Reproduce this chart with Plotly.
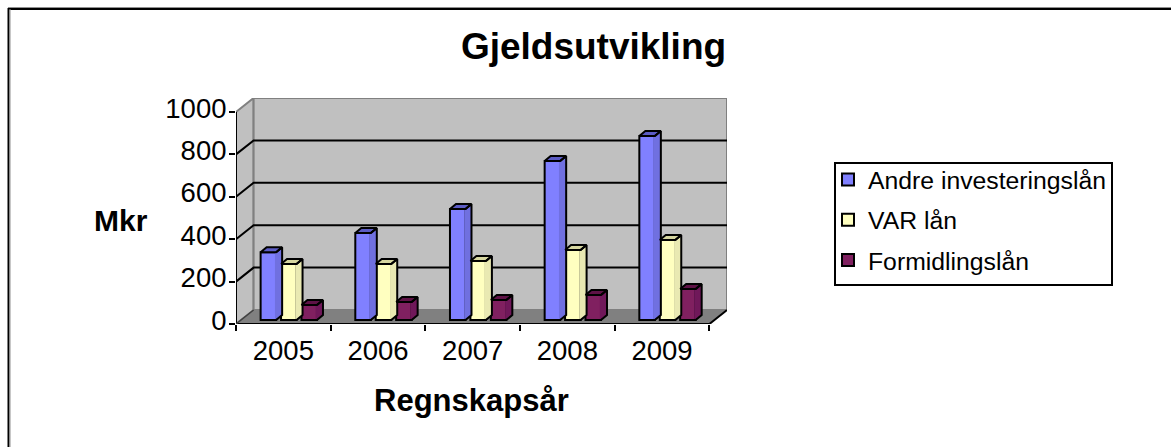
import plotly.graph_objects as go

years = ["2005", "2006", "2007", "2008", "2009"]
andre = [320, 410, 524, 750, 868]
var_lan = [264, 264, 278, 330, 377]
formidling = [71, 85, 94, 118, 146]
y_ticks = [0, 200, 400, 600, 800, 1000]

W, H = 1171, 447
L, R, T, B = 236, 727, 98, 324          # plot area in pixels
UX, UY = 94.6, 0.212                    # pixels per x unit / per value unit
DX, DY = 17.6 / UX, 14 / UY             # depth of the floor
BASE = 4 / UY                           # bars stand slightly behind the front edge
BW = 15.5 / UX                          # front width of a bar
BDX, BDY = 6 / UX, 5 / UY               # depth of a bar
PITCH, START = 20.4 / UX, 24.6 / UX - 0.5

series = [
    ("Andre investeringslån", andre, "#8080FF", "#7070E0", "#5C5CC4"),
    ("VAR lån", var_lan, "#FFFFC0", "#E9E9B2", "#D6D6A0"),
    ("Formidlingslån", formidling, "#802060", "#70185A", "#5E1246"),
]


def poly(points):
    return "M" + "L".join(f"{x},{y}" for x, y in points) + "Z"


def px(x):
    return (x - L) / (R - L)


def py(y):
    return (B - y) / (B - T)


shapes = [
    dict(type="path", path=poly([(0, 0), (DX, DY), (DX, 1000 + DY), (0, 1000)]),
         fillcolor="#C0C0C0", line=dict(color="#808080", width=2), layer="below"),
    dict(type="path", path=poly([(DX, DY), (5 + DX, DY), (5 + DX, 1000 + DY), (DX, 1000 + DY)]),
         fillcolor="#C0C0C0", line=dict(color="#808080", width=2), layer="below"),
    dict(type="path", path=poly([(0, 0), (DX, DY), (5 + DX, DY), (5, 0)]),
         fillcolor="#808080", line=dict(color="#808080", width=1), layer="below"),
]
for v in y_ticks[1:-1]:
    shapes.append(dict(type="path", path=f"M0,{v}L{DX},{v + DY}L{5 + DX},{v + DY}",
                       line=dict(color="#000000", width=2), layer="below"))
shapes += [
    dict(type="line", x0=0, x1=0, y0=0, y1=1000, line=dict(color="#000", width=2), layer="below"),
    dict(type="line", x0=0, x1=5, y0=0, y1=0, line=dict(color="#000", width=2), layer="below"),
    dict(type="line", x0=5, x1=5 + DX, y0=0, y1=DY, line=dict(color="#000", width=2), layer="below"),
    dict(type="line", x0=0, x1=DX, y0=0, y1=DY, line=dict(color="#404040", width=1.5), layer="below"),
]
# outer frame of the picture (open towards the right and the bottom)
for x0, y0, x1, y1, col, wid in [
    (8, 7.5, W, 7.5, "#909090", 1), (8, 9, W, 9, "#000", 2),
    (8.5, 8, 8.5, H, "#000", 2), (10, 9, 10, H, "#909090", 1),
]:
    shapes.append(dict(type="line", xref="paper", yref="paper", x0=px(x0), x1=px(x1),
                       y0=py(y0), y1=py(y1), line=dict(color=col, width=wid)))
# legend box
shapes.append(dict(type="rect", xref="paper", yref="paper", x0=px(835), x1=px(1112),
                   y0=py(163), y1=py(285), line=dict(color="#000", width=2)))

fig = go.Figure()
centres = [i + 0.5 for i in range(len(years))]
ticklabels = years

for i, (name, values, front, side, top) in enumerate(series):
    offset = START + i * PITCH
    fig.add_trace(go.Bar(x=centres, y=values, base=BASE, width=BW, offset=offset, name=name,
                         legendgroup=name, marker=dict(color=front, line=dict(color="#000", width=2))))

for i, (name, values, front, side, top) in enumerate(series):
    offset = START + i * PITCH
    sx, sy, tx, ty, ox, oy = [], [], [], [], [], []
    e = 1.2 / UX
    for c, v in zip(centres, values):
        xl, xr, yt = c + offset, c + offset + BW, BASE + v
        sx += [xr - e, xr + BDX, xr + BDX, xr - e, xr - e, None]
        sy += [yt, yt + BDY, BASE + BDY, BASE, yt, None]
        tx += [xl, xr, xr + BDX, xl + BDX, xl, None]
        ty += [yt, yt, yt + BDY, yt + BDY, yt, None]
        ox += [xr, xr + BDX, xr + BDX, xr, xr - e * 2, None]
        oy += [yt, yt + BDY, BASE + BDY, BASE, BASE, None]
    common = dict(mode="lines", showlegend=False, hoverinfo="skip", legendgroup=name)
    fig.add_trace(go.Scatter(x=sx, y=sy, fill="toself", fillcolor=side, line=dict(width=0), **common))
    fig.add_trace(go.Scatter(x=tx, y=ty, fill="toself", fillcolor=top,
                             line=dict(color="#000", width=2), **common))
    fig.add_trace(go.Scatter(x=ox, y=oy, line=dict(color="#000", width=2), **common))

FONT = "Liberation Sans, Arial, sans-serif"
fig.update_layout(
    width=W, height=H, autosize=False,
    margin=dict(l=L, r=W - R, t=T, b=H - B, pad=0),
    paper_bgcolor="#FFFFFF", plot_bgcolor="rgba(0,0,0,0)",
    barmode="overlay", font=dict(family=FONT, color="#000000", size=26),
    title=dict(text="<b>Gjeldsutvikling</b>", font=dict(size=37, family=FONT, color="#000"),
               x=593.5 / W, xanchor="center", xref="container", y=1 - 46 / H, yanchor="middle", yref="container"),
    xaxis=dict(range=[0, 5 + DX], tickmode="array", tickvals=centres, ticktext=ticklabels,
               ticks="", showgrid=False, zeroline=False, showline=False,
               tickfont=dict(size=27.5), ticklabelstandoff=7, fixedrange=True,
               minor=dict(tickmode="array", tickvals=[0, 1, 2, 3, 4, 5], ticks="outside",
                          ticklen=6, tickwidth=2, tickcolor="#000", showgrid=False)),
    yaxis=dict(range=[0, (B - T) / UY], tickmode="array", tickvals=y_ticks, ticks="outside",
               ticklen=6, tickwidth=2, tickcolor="#000", showgrid=False, zeroline=False,
               showline=False, tickfont=dict(size=27.5), ticklabelshift=-4, ticklabelstandoff=-3,
               fixedrange=True),
    legend=dict(x=px(835), y=py(157), xanchor="left", yanchor="top", xref="paper", yref="paper",
                bgcolor="rgba(0,0,0,0)", borderwidth=0, tracegroupgap=5, font=dict(size=24.75),
                indentation=-7, traceorder="grouped"),
    shapes=shapes,
    annotations=[
        dict(text="<b>Mkr</b>", xref="paper", yref="paper", x=px(121), y=py(220), showarrow=False,
             xanchor="center", yanchor="middle", font=dict(size=30, family=FONT, color="#000")),
        dict(text="<b>Regnskapsår</b>", xref="paper", yref="paper", x=px(471), y=py(400), showarrow=False,
             xanchor="center", yanchor="middle", font=dict(size=31, family=FONT, color="#000")),
    ],
)
fig.write_html("out.html", config=dict(displayModeBar=False),
               post_script="document.body.style.margin='0';document.documentElement.style.overflow='hidden';")
